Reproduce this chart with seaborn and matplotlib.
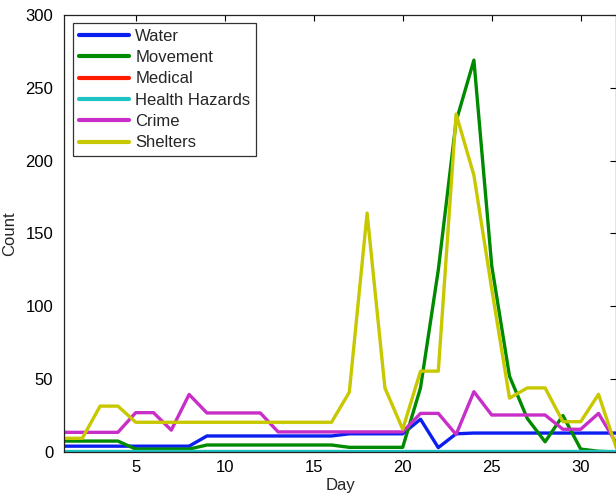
import numpy as np
import pandas as pd
import matplotlib
matplotlib.use("Agg")
import matplotlib.pyplot as plt
import seaborn as sns

days = list(range(1, 33))
water = [4, 4, 4, 4, 4, 4, 4, 4, 11, 11, 11, 11, 11, 11, 11, 11,
         12.5, 12.5, 12.5, 12.5, 22.5, 3, 12.5, 13, 13, 13, 13, 13, 13, 13, 13, 13]
movement = [7.5, 7.5, 7.5, 7.5, 2, 2, 2, 2, 4.8, 4.8, 4.8, 4.8, 4.8, 4.8, 4.8, 4.8,
            3.2, 3.2, 3.2, 3.2, 44, 125, 227, 269, 128, 52, 23, 7, 25, 2, 0.5, 0]
medical = [0] * 32
health_hazards = [0.5] * 32
crime = [13.5, 13.5, 13.5, 13.5, 27, 27, 15, 39.5, 26.8, 26.8, 26.8, 26.8, 13.8, 13.8, 13.8, 13.8,
         13.8, 13.8, 13.8, 13.8, 26.5, 26.5, 12, 41.4, 25.4, 25.4, 25.4, 25.4, 15.6, 15.6, 26.5, 6]
shelters = [9.4, 9.4, 31.5, 31.5, 20.4, 20.4, 20.4, 20.4, 20.4, 20.4, 20.4, 20.4, 20.4, 20.4, 20.4, 20.4,
            41, 164, 44, 15.6, 55.5, 55.5, 232, 190, 112, 37, 44, 44, 20.8, 20.8, 39.6, 3]

series_names = ["Water", "Movement", "Medical", "Health Hazards", "Crime", "Shelters"]
series_values = [water, movement, medical, health_hazards, crime, shelters]
colors = ["#0a1ef0", "#008a00", "#ff1a00", "#1ec3c3", "#c82ec8", "#c8c800"]

df = pd.concat([pd.DataFrame({"Day": days, "Count": v, "Category": n})
                for n, v in zip(series_names, series_values)], ignore_index=True)

sns.set_style("white")
plt.rcParams["font.family"] = ["Liberation Sans", "DejaVu Sans"]

fig = plt.figure(figsize=(6.16, 4.99), dpi=100)
ax = fig.add_axes([0.1047, 0.0942, 0.8958, 0.8758])

sns.lineplot(data=df, x="Day", y="Count", hue="Category", hue_order=series_names,
             palette=colors, linewidth=2.4, ax=ax, legend=True, estimator=None)

ax.set_xlim(1, 32)
ax.set_ylim(0, 300)
ax.set_xticks([5, 10, 15, 20, 25, 30])
ax.set_yticks([0, 50, 100, 150, 200, 250, 300])
ax.tick_params(direction="in", length=4, width=0.8, top=True, right=True,
               labelsize=12, colors="black")
ax.tick_params(axis="y", pad=8)
ax.tick_params(axis="x", pad=6)
for s in ax.spines.values():
    s.set_color("#222222")
    s.set_linewidth(0.9)
ax.set_xlabel("Day", fontsize=12, labelpad=2)
ax.set_ylabel("Count", fontsize=12, labelpad=6)

leg = ax.legend(loc="upper left", bbox_to_anchor=(0.0163, 0.982), borderaxespad=0,
                fontsize=12, frameon=True, fancybox=False, edgecolor="black",
                handlelength=3.0, handletextpad=0.35, labelspacing=0.38,
                borderpad=0.35, title=None)
leg.get_frame().set_linewidth(0.9)
for line in leg.get_lines():
    line.set_linewidth(3)

fig.savefig("out.png", dpi=100)
